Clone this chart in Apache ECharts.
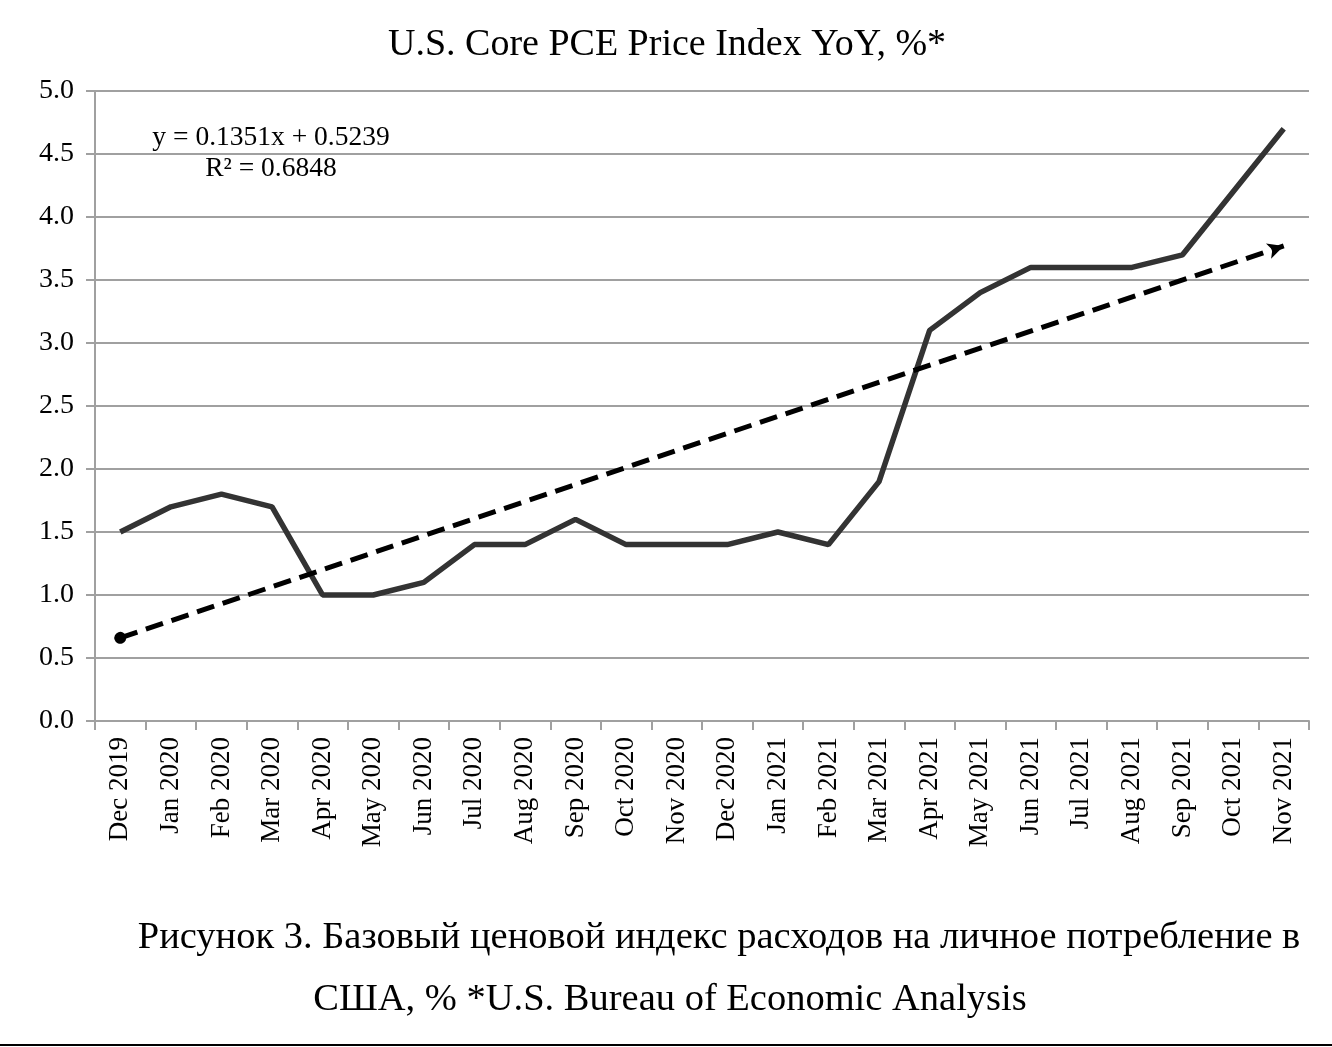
<!DOCTYPE html>
<html><head><meta charset="utf-8">
<script src="https://cdn.jsdelivr.net/npm/echarts@6/dist/echarts.min.js"></script>
<style>html,body{margin:0;padding:0;background:#fff}#c{width:1332px;height:1047px}</style>
</head><body><div id="c"></div>
<script>
const categories = ['Dec 2019','Jan 2020','Feb 2020','Mar 2020','Apr 2020','May 2020','Jun 2020','Jul 2020','Aug 2020','Sep 2020','Oct 2020','Nov 2020','Dec 2020','Jan 2021','Feb 2021','Mar 2021','Apr 2021','May 2021','Jun 2021','Jul 2021','Aug 2021','Sep 2021','Oct 2021','Nov 2021'];
const corePce = [1.5,1.7,1.8,1.7,1.0,1.0,1.1,1.4,1.4,1.6,1.4,1.4,1.4,1.5,1.4,1.9,3.1,3.4,3.6,3.6,3.6,3.7,4.2,4.7];
const trendCats = ['Dec 2019','Nov 2021'];
const trendValues = [0.66, 3.77];
const titleText = 'U.S. Core PCE Price Index YoY, %*';
const eqLines = ['y = 0.1351x + 0.5239', 'R² = 0.6848'];
const captionLines = ['Рисунок 3. Базовый ценовой индекс расходов на личное потребление в', 'США, % *U.S. Bureau of Economic Analysis'];

const FONT = '"Liberation Serif", "DejaVu Serif", serif';
const chart = echarts.init(document.getElementById('c'));
chart.setOption({
  backgroundColor: '#fff',
  animation: false,
  grid: { left: 95, right: 23, top: 91, bottom: 326 },
  xAxis: {
    type: 'category', data: categories, boundaryGap: true,
    axisLine: { lineStyle: { color: '#a0a0a0', width: 2 } },
    axisTick: { show: true, length: 9, lineStyle: { color: '#a0a0a0', width: 2 } },
    axisLabel: { rotate: 90, interval: 0, fontFamily: FONT, fontSize: 27, color: '#000', margin: 16 }
  },
  yAxis: {
    type: 'value', min: 0, max: 5, interval: 0.5,
    axisLine: { show: true, lineStyle: { color: '#a0a0a0', width: 2 } },
    axisTick: { show: true, length: 9, lineStyle: { color: '#a0a0a0', width: 2 } },
    splitLine: { lineStyle: { color: '#a0a0a0', width: 2 } },
    axisLabel: { formatter: v => v.toFixed(1), fontFamily: FONT, fontSize: 28, color: '#000', margin: 21 }
  },
  series: [
    {
      type: 'line', data: corePce, symbol: 'none',
      lineStyle: { color: '#333333', width: 5.5 }, z: 3,
      markLine: {
        silent: true, symbol: ['circle', 'arrow'], symbolSize: [12, 16],
        label: { show: false },
        lineStyle: { color: '#000', width: 5, type: [18, 9] },
        data: [[ { coord: [trendCats[0], trendValues[0]] }, { coord: [trendCats[1], trendValues[1]] } ]]
      }
    }
  ],
  graphic: [
    { type: 'text', x: 667, y: 45, style: { text: titleText, fontFamily: FONT, fontSize: 38, fill: '#000', textAlign: 'center', textVerticalAlign: 'middle' } },
    { type: 'text', x: 271, y: 138, style: { text: eqLines[0], fontFamily: FONT, fontSize: 27.5, fill: '#000', textAlign: 'center', textVerticalAlign: 'middle' } },
    { type: 'text', x: 271, y: 169, style: { text: eqLines[1], fontFamily: FONT, fontSize: 27.5, fill: '#000', textAlign: 'center', textVerticalAlign: 'middle' } },
    { type: 'text', x: 719, y: 938, style: { text: captionLines[0], fontFamily: FONT, fontSize: 38.5, fill: '#000', textAlign: 'center', textVerticalAlign: 'middle' } },
    { type: 'text', x: 670, y: 1000, style: { text: captionLines[1], fontFamily: FONT, fontSize: 38.5, fill: '#000', textAlign: 'center', textVerticalAlign: 'middle' } },
    { type: 'rect', shape: { x: 0, y: 1044, width: 1332, height: 2 }, style: { fill: '#000' } }
  ]
});
</script></body></html>
